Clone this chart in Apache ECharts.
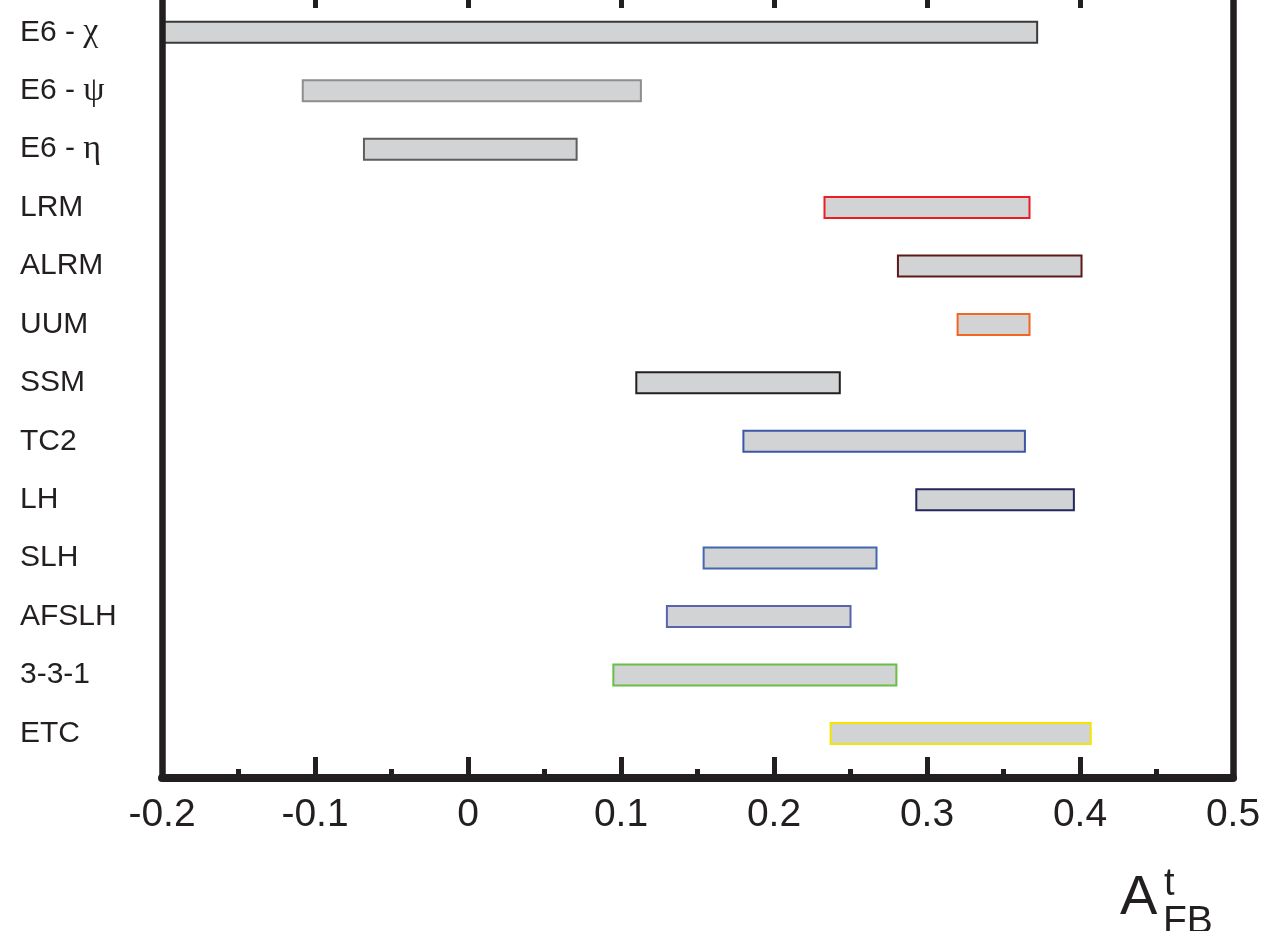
<!DOCTYPE html>
<html>
<head>
<meta charset="utf-8">
<script src="https://cdn.jsdelivr.net/npm/echarts@6/dist/echarts.min.js"></script>
<style>
html,body{margin:0;padding:0;background:#ffffff;}
#chart{width:1281px;height:931px;}
</style>
</head>
<body>
<div id="chart"></div>
<script>
// ---- data ----
var models = ['E6 - χ', 'E6 - ψ', 'E6 - η', 'LRM', 'ALRM', 'UUM', 'SSM', 'TC2', 'LH', 'SLH', 'AFSLH', '3-3-1', 'ETC'];
var lowValues  = [-0.200, -0.108, -0.068, 0.233, 0.281, 0.320, 0.110, 0.180, 0.293, 0.154, 0.130, 0.095, 0.237];
var highValues = [ 0.372,  0.113,  0.071, 0.367, 0.401, 0.367, 0.243, 0.364, 0.396, 0.267, 0.250, 0.280, 0.407];
var borderColors = ['#3a3a3a', '#8e8e8e', '#5e5e5e', '#ed1c24', '#5c1a1a', '#f26522', '#231f20', '#3b57a5', '#26265e', '#4766b0', '#5b63ad', '#6abd45', '#f2e600'];
var xTickLabels = ['-0.2', '-0.1', '0', '0.1', '0.2', '0.3', '0.4', '0.5'];
var xMin = -0.2, xMax = 0.5, xStep = 0.1;

var chart = echarts.init(document.getElementById('chart'), null, {renderer: 'canvas'});

var seriesData = models.map(function (m, i) {
  return [i, lowValues[i], highValues[i]];
});

function labelFmt(name) {
  var m = name.match(/^(E6 - )(.)$/);
  if (m) return m[1] + '{g|' + m[2] + '}';
  return name;
}

var option = {
  backgroundColor: '#ffffff',
  animation: false,
  grid: [
    {left: 162, right: 48, top: 0, bottom: 153, containLabel: false},
    {left: 162, right: 48, top: 3.1, height: 759.5, containLabel: false}
  ],
  xAxis: [
    {
      gridIndex: 0, type: 'value', position: 'bottom', min: xMin, max: xMax, interval: xStep, z: 10,
      axisLine: {show: true, onZero: false, lineStyle: {color: '#231f20', width: 8}},
      axisTick: {show: true, inside: true, length: 21, lineStyle: {color: '#231f20', width: 5}},
      minorTick: {show: true, splitNumber: 2, length: 9, lineStyle: {color: '#231f20', width: 5}},
      splitLine: {show: false},
      axisLabel: {
        show: true, margin: 18, fontSize: 39, color: '#231f20', fontFamily: 'Liberation Sans, Arial, sans-serif',
        showMinLabel: true, showMaxLabel: true, hideOverlap: false,
        formatter: function (v) { return xTickLabels[Math.round((v - xMin) / xStep)]; }
      }
    },
    {
      gridIndex: 0, type: 'value', position: 'top', offset: 13, min: xMin, max: xMax, interval: xStep, z: 10,
      axisLine: {show: true, onZero: false, lineStyle: {color: '#231f20', width: 8}},
      axisTick: {show: true, inside: true, length: 21, lineStyle: {color: '#231f20', width: 5}},
      minorTick: {show: true, splitNumber: 2, length: 9, lineStyle: {color: '#231f20', width: 5}},
      splitLine: {show: false},
      axisLabel: {show: false}
    },
    {
      gridIndex: 1, type: 'value', min: xMin, max: xMax, interval: xStep, show: false
    }
  ],
  yAxis: [
    {
      gridIndex: 0, type: 'value', position: 'left', min: 0, max: 1, z: 10,
      axisLine: {show: true, onZero: false, lineStyle: {color: '#231f20', width: 6.5}},
      axisTick: {show: false}, axisLabel: {show: false}, splitLine: {show: false}
    },
    {
      gridIndex: 0, type: 'value', position: 'right', min: 0, max: 1, z: 10,
      axisLine: {show: true, onZero: false, lineStyle: {color: '#231f20', width: 6.5}},
      axisTick: {show: false}, axisLabel: {show: false}, splitLine: {show: false}
    },
    {
      gridIndex: 1, type: 'category', data: models, inverse: true, boundaryGap: true,
      axisLine: {show: false}, axisTick: {show: false}, splitLine: {show: false},
      axisLabel: {
        show: true, interval: 0, align: 'left', margin: 142, fontSize: 30, color: '#231f20',
        fontFamily: 'Liberation Sans, Arial, sans-serif',
        formatter: labelFmt,
        rich: {
          g: {fontSize: 34, fontFamily: 'Liberation Serif, DejaVu Serif, serif', color: '#231f20'}
        }
      }
    }
  ],
  series: [
    {
      type: 'custom',
      xAxisIndex: 2,
      yAxisIndex: 2,
      z: 2,
      encode: {x: [1, 2], y: 0},
      data: seriesData,
      renderItem: function (params, api) {
        var idx = api.value(0);
        var p0 = api.coord([api.value(1), idx]);
        var p1 = api.coord([api.value(2), idx]);
        var h = 21;
        return {
          type: 'rect',
          shape: {x: p0[0], y: p0[1] - h / 2, width: p1[0] - p0[0], height: h},
          style: {fill: '#d1d3d4', stroke: borderColors[idx], lineWidth: 2}
        };
      }
    }
  ],
  graphic: [
    {type: 'text', left: 1120, top: 871, style: {text: 'A', fontSize: 56, fill: '#231f20', fontFamily: 'Liberation Sans, Arial, sans-serif'}},
    {type: 'text', left: 1164, top: 866, style: {text: 't', fontSize: 38, fill: '#231f20', fontFamily: 'Liberation Sans, Arial, sans-serif'}},
    {type: 'text', left: 1163, top: 903, style: {text: 'FB', fontSize: 39, fill: '#231f20', fontFamily: 'Liberation Sans, Arial, sans-serif'}}
  ]
};
chart.setOption(option);
</script>
</body>
</html>
